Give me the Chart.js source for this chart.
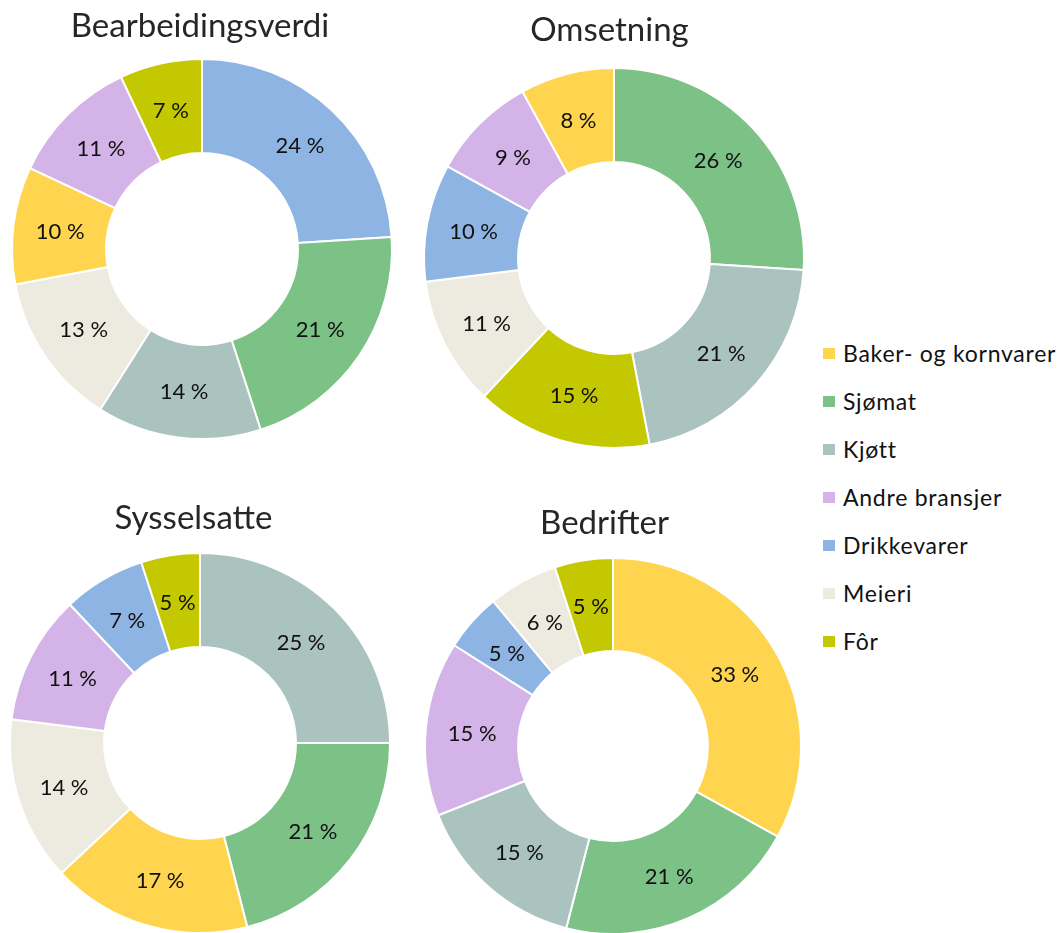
<!DOCTYPE html>
<html lang="no">
<head>
<meta charset="utf-8">
<title>Næringsmiddelindustrien</title>
<script src="https://cdn.jsdelivr.net/npm/chart.js@4.4.1/dist/chart.umd.min.js"></script>
<style>
  body { margin: 0; background: #fff; font-family: Lato, sans-serif; overflow: hidden; }
  #side { position: relative; width: 1060px; height: 933px; }
  #side canvas { position: absolute; }
  #forklaring { position: absolute; left: 823px; top: 329px; margin: 0; padding: 0; list-style: none; }
  #forklaring li { height: 48px; display: flex; align-items: center; font-size: 23px; letter-spacing: 0.75px; color: #111; white-space: nowrap; }
  #forklaring span { display: inline-block; width: 12px; height: 11px; margin-right: 8px; }
</style>
</head>
<body>
<div id="side">
  <canvas id="bearbeiding" width="400" height="440" style="left:2px;top:0px"></canvas>
  <canvas id="omsetning" width="400" height="449" style="left:414px;top:0px"></canvas>
  <canvas id="sysselsatte" width="400" height="454" style="left:0px;top:480px"></canvas>
  <canvas id="bedrifter" width="400" height="455" style="left:413px;top:480px"></canvas>
  <ul id="forklaring"></ul>
</div>
<script>
// Kategorier og farger (samme rekkefølge som forklaringen)
const kategorier = ['Baker- og kornvarer', 'Sjømat', 'Kjøtt', 'Andre bransjer', 'Drikkevarer', 'Meieri', 'Fôr'];
const farger = ['#FFD550', '#7CC186', '#ABC3BF', '#D4B4E8', '#8EB4E3', '#EDEBE0', '#C4C800'];

// Bearbeidingsverdi (andel i prosent, med klokka fra toppen)
const bearbeidingNavn = ['Drikkevarer', 'Sjømat', 'Kjøtt', 'Meieri', 'Baker- og kornvarer', 'Andre bransjer', 'Fôr'];
const bearbeidingVerdier = [24, 21, 14, 13, 10, 11, 7];

// Omsetning
const omsetningNavn = ['Sjømat', 'Kjøtt', 'Fôr', 'Meieri', 'Drikkevarer', 'Andre bransjer', 'Baker- og kornvarer'];
const omsetningVerdier = [26, 21, 15, 11, 10, 9, 8];

// Sysselsatte
const sysselsatteNavn = ['Kjøtt', 'Sjømat', 'Baker- og kornvarer', 'Meieri', 'Andre bransjer', 'Drikkevarer', 'Fôr'];
const sysselsatteVerdier = [25, 21, 17, 14, 11, 7, 5];

// Bedrifter
const bedrifterNavn = ['Baker- og kornvarer', 'Sjømat', 'Kjøtt', 'Andre bransjer', 'Drikkevarer', 'Meieri', 'Fôr'];
const bedrifterVerdier = [33, 21, 15, 15, 5, 6, 5];

// Tegner "xx %" midt i hver bit
const prosentEtiketter = {
  id: 'prosentEtiketter',
  afterDatasetsDraw(chart) {
    const ctx = chart.ctx;
    const meta = chart.getDatasetMeta(0);
    const verdier = chart.data.datasets[0].data;
    ctx.save();
    ctx.font = '22px Lato';
    ctx.fillStyle = '#111';
    ctx.textAlign = 'center';
    ctx.textBaseline = 'middle';
    meta.data.forEach((bue, i) => {
      const p = bue.tooltipPosition();
      ctx.fillText(verdier[i] + ' %', p.x, p.y + 1);
    });
    ctx.restore();
  }
};

// Flytter tittelen litt sidelengs (tittelen står ikke helt midt over ringen)
const flyttTittel = {
  id: 'flyttTittel',
  afterLayout(chart, args, opts) {
    const dx = opts.dx || 0;
    chart.titleBlock.left += dx;
    chart.titleBlock.right += dx;
  }
};

function fargeFor(navn) {
  return navn.map(n => farger[kategorier.indexOf(n)]);
}

function lagKake(id, tittel, navn, verdier, padTopp, padBunn, dx) {
  return new Chart(document.getElementById(id), {
    type: 'doughnut',
    data: {
      labels: navn,
      datasets: [{
        data: verdier,
        backgroundColor: fargeFor(navn),
        borderColor: '#fff',
        borderWidth: 2
      }]
    },
    options: {
      responsive: false,
      animation: false,
      cutout: '50.5%',
      plugins: {
        legend: { display: false },
        tooltip: { enabled: false },
        title: {
          display: true,
          text: tittel,
          color: '#262626',
          font: { family: 'Lato', size: 33, weight: 'normal' },
          padding: { top: padTopp, bottom: padBunn }
        },
        flyttTittel: { dx: dx }
      }
    },
    plugins: [prosentEtiketter, flyttTittel]
  });
}

lagKake('bearbeiding', 'Bearbeidingsverdi', bearbeidingNavn, bearbeidingVerdier, 7, 11.4, -2);
lagKake('omsetning', 'Omsetning', omsetningNavn, omsetningVerdier, 11, 16.4, -4.5);
lagKake('sysselsatte', 'Sysselsatte', sysselsatteNavn, sysselsatteVerdier, 19, 13.4, -6.5);
lagKake('bedrifter', 'Bedrifter', bedrifterNavn, bedrifterVerdier, 24, 13.4, -8.5);

// Felles forklaring
const forklaring = document.getElementById('forklaring');
kategorier.forEach((navn, i) => {
  const li = document.createElement('li');
  li.innerHTML = `<span style="background:${farger[i]}"></span>${navn}`;
  forklaring.appendChild(li);
});
</script>
</body>
</html>
